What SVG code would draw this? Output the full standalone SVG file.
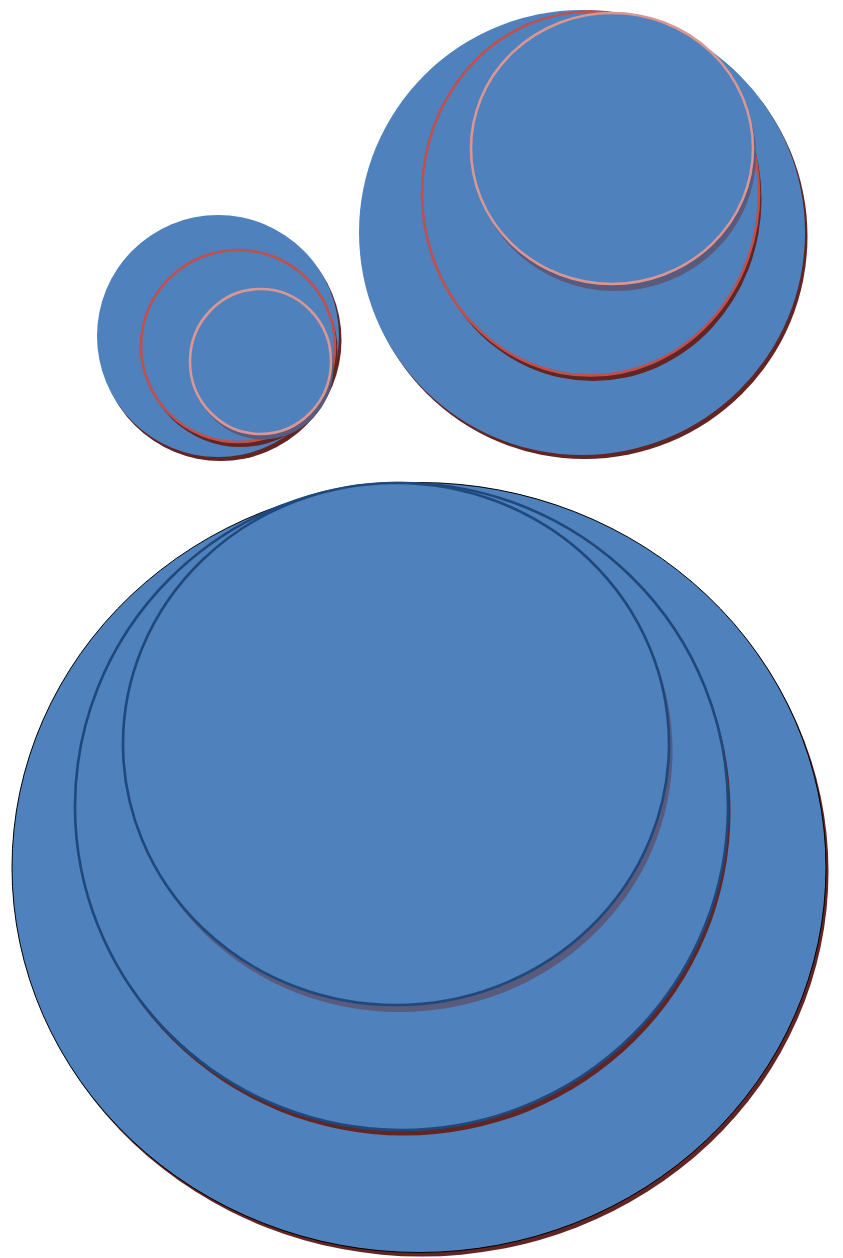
<svg xmlns="http://www.w3.org/2000/svg" width="843" height="1258" viewBox="0 0 843 1258">
<style>
.fill{fill:#4F81BD}
.shR{fill:#632523}
.shG{fill:#5A5A7C}
.red{stroke:#C0504D;stroke-width:2.6}
.pink{stroke:#D99694;stroke-width:2.6}
.navy{stroke:#1F497D;stroke-width:2.6}
.blk{stroke:#000;stroke-width:1}
</style>
<rect width="843" height="1258" fill="#fff"/>
<g id="small">
  <ellipse class="shR" cx="220.5" cy="340" rx="121" ry="121"/>
  <ellipse class="fill" cx="218" cy="336" rx="121" ry="121"/>
  <ellipse class="shR" cx="240.5" cy="351" rx="97" ry="96"/>
  <ellipse class="fill red" cx="238" cy="346" rx="97" ry="96"/>
  <ellipse class="shG" cx="263" cy="367" rx="70.5" ry="72.5"/>
  <ellipse class="fill pink" cx="260.5" cy="361.5" rx="70.5" ry="72.5"/>
</g>
<g id="topright">
  <ellipse class="shR" cx="584.5" cy="236.5" rx="223" ry="222.5"/>
  <ellipse class="fill" cx="582" cy="232.5" rx="223" ry="222.5"/>
  <ellipse class="shR" cx="593" cy="199" rx="168.5" ry="182"/>
  <ellipse class="fill red" cx="590.5" cy="193.5" rx="168.5" ry="182"/>
  <ellipse class="shG" cx="615" cy="155.5" rx="141" ry="135.5"/>
  <ellipse class="fill pink" cx="612" cy="148.5" rx="141" ry="135.5"/>
</g>
<g id="big">
  <ellipse class="shR" cx="421.5" cy="871.5" rx="407" ry="385"/>
  <ellipse class="fill blk" cx="419" cy="867.5" rx="407" ry="385"/>
  <ellipse class="shR" cx="404" cy="812" rx="326.5" ry="323.5"/>
  <ellipse class="fill navy" cx="401.5" cy="806.5" rx="326.5" ry="323.5"/>
  <ellipse class="shG" cx="399.5" cy="751" rx="273" ry="261"/>
  <ellipse class="fill navy" cx="396" cy="744" rx="273" ry="261"/>
</g>
<g id="connectors"/>
</svg>
